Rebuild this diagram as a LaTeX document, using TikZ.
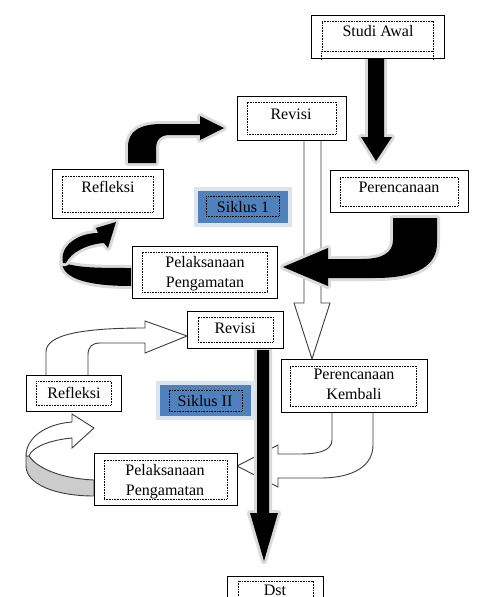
\documentclass[tikz,border=0pt]{standalone}
\usepackage{fontspec}
\setmainfont{Liberation Serif}
\usetikzlibrary{fit}
\definecolor{sblue}{RGB}{79,129,189}
\definecolor{shad}{RGB}{218,218,218}
\definecolor{sframe}{RGB}{222,228,236}
\definecolor{hline}{RGB}{60,60,60}
\definecolor{band}{RGB}{204,204,204}
\begin{document}
\begin{tikzpicture}[x=1pt,y=-1pt,
  obox/.style={draw=black, line width=1pt, fill=white, inner sep=0pt},
  bbox/.style={draw=sframe, line width=1pt, fill=sblue, inner sep=0pt},
  ibox/.style={draw=black, line width=0.6pt, dash pattern=on 0.8pt off 0.8pt, inner sep=0pt},
  txt/.style={font=\fontsize{16}{20}\selectfont, align=center, inner sep=0pt},
  blk/.style={fill=black, preaction={draw=shad, line width=6pt, line join=round}},
  hollow/.style={draw=hline, line width=0.9pt, fill=white, line join=miter},
]
\path[use as bounding box] (0,0) rectangle (481,597);
\clip (0,0) rectangle (481,597);
\fill[white] (0,0) rectangle (481,597);

% ---------- hollow arrow Revisi 1 -> Perencanaan Kembali
\path[hollow] (304,140) -- (304,303) -- (294,303) -- (312,359) -- (330,303) -- (321,303) -- (321,140);

% ---------- black arrows, cycle 1
% Studi Awal -> Perencanaan
\path[blk] (368,59) -- (368,137) -- (361,137) -- (376,161) -- (392,137) -- (384,137) -- (384,59) -- cycle;
% Refleksi -> Revisi
\path[blk] (128,163) -- (128,147) .. controls (128,131) and (140,124) .. (162,124) -- (200,124)
  -- (200,116) -- (224,128) -- (200,140) -- (200,135) -- (170,135)
  .. controls (160,135) and (156,140) .. (156,149) -- (156,163) -- cycle;
% Perencanaan -> Pelaksanaan
\path[blk] (393,218) -- (393,240) .. controls (393,253) and (382,259) .. (362,259) -- (328,259)
  -- (328,248) -- (283,267) -- (328,286) -- (328,278) -- (375,278)
  .. controls (418,278) and (437,265) .. (437,243) -- (437,218) -- cycle;
% Pelaksanaan -> Refleksi (ribbon)
\path[blk] (62,262) .. controls (75,268) and (100,268) .. (131,268) -- (131,286)
  .. controls (92,286) and (62,280) .. (62,262) -- cycle;
\path[blk] (63,263) .. controls (59,246) and (78,233) .. (98,233) -- (96,228) -- (116,222)
  -- (108,248) -- (104,243) .. controls (88,244) and (71,252) .. (66,263) -- cycle;

% ---------- hollow arrows, cycle 2
% Refleksi II -> Revisi II
\path[hollow] (46,375) -- (46,352) .. controls (46,335) and (80,328) .. (145,328) -- (145,321)
  -- (187,336) -- (145,353) -- (145,343) -- (100,343) .. controls (92,343) and (88,347) .. (88,355)
  -- (88,375);
% Perencanaan Kembali -> Pelaksanaan II
\path[hollow] (332,412) -- (332,440) .. controls (332,452) and (315,454) .. (300,454) -- (278,454)
  -- (278,445) -- (237,466) -- (278,487) -- (278,478) -- (320,478)
  .. controls (355,478) and (373,465) .. (373,445) -- (373,412);
% Pelaksanaan II -> Refleksi II (ribbon)
\path[hollow, fill=band] (29,456) .. controls (40,472) and (70,479) .. (94,480) -- (94,496)
  .. controls (55,496) and (26,484) .. (26,466) -- (26,456) -- cycle;
\path[hollow] (72,422) -- (72,414) -- (94,428) -- (72,448) -- (72,438)
  .. controls (50,440) and (32,447) .. (29,456) -- (26,456)
  .. controls (26,438) and (45,424) .. (72,422) -- cycle;

% ---------- black arrow Revisi II -> Dst
\path[blk] (257,350) -- (257,513) -- (250,513) -- (264,561) -- (278,513) -- (269,513) -- (269,350) -- cycle;

% ---------- boxes
\node[obox, fit={(311,15) (444,58)}] (studi) {};
\node[ibox, fit={(322,21) (433,51)}] (studiIn) {};
\draw[ibox] (studiIn.south west) -- ++(0,9) (studiIn.south east) -- ++(0,9);
\node[txt, anchor=base] (studiT) at (378,36) {Studi Awal};

\node[obox, fit={(237,96) (346,140)}] (rev1) {};
\node[ibox, fit={(247,102) (336,134)}] (rev1In) {};
\node[txt, anchor=base] (rev1T) at (291,119) {Revisi};

\node[obox, fit={(330,170) (468,212)}] (ren1) {};
\node[ibox, fit={(340,177) (458,206)}] (ren1In) {};
\node[txt, anchor=base] (ren1T) at (399,192) {Perencanaan};

\node[obox, fit={(52,169) (163,218)}] (ref1) {};
\node[ibox, fit={(62,176) (153,212)}] (ref1In) {};
\node[txt, anchor=base] (ref1T) at (108,192) {Refleksi};

\fill[sframe] (194,187) rectangle (292,227);
\node[bbox, fit={(197,190) (288,223)}] (sik1) {};
\node[ibox, fit={(206,196) (279,216)}] (sik1In) {};
\node[txt, anchor=base] (sik1T) at (243,212) {Siklus 1};

\node[obox, fit={(132,246) (277,298)}] (pel1) {};
\node[ibox, fit={(142,252) (267,292)}] (pel1In) {};
\node[txt] (pel1T) at (205,273.3) {Pelaksanaan\\Pengamatan};

\node[obox, fit={(187,311) (283,348)}] (rev2) {};
\node[ibox, fit={(198,317) (273,342)}] (rev2In) {};
\node[txt, anchor=base] (rev2T) at (235,333) {Revisi};

\node[obox, fit={(26,375) (121,411)}] (ref2) {};
\node[ibox, fit={(36,381) (111,405)}] (ref2In) {};
\node[txt, anchor=base] (ref2T) at (74,398) {Refleksi};

\fill[sframe] (156,381) rectangle (255,420);
\node[bbox, fit={(159,384) (251,416)}] (sik2) {};
\node[ibox, fit={(169,390) (242,411)}] (sik2In) {};
\node[txt, anchor=base] (sik2T) at (205,406) {Siklus II};

\node[obox, fit={(281,359) (427,412)}] (ren2) {};
\node[ibox, fit={(290,366) (416,406)}] (ren2In) {};
\node[txt] (ren2T) at (354,384.7) {Perencanaan\\Kembali};

\node[obox, fit={(94,453) (237,505)}] (pel2) {};
\node[ibox, fit={(104,460) (227,499)}] (pel2In) {};
\node[txt] (pel2T) at (165,481.3) {Pelaksanaan\\Pengamatan};

\node[obox, fit={(227,576) (323,620)}] (dst) {};
\node[ibox, fit={(238,581) (313,615)}] (dstIn) {};
\node[txt, anchor=base] (dstT) at (275,595) {Dst};
\end{tikzpicture}
\end{document}
